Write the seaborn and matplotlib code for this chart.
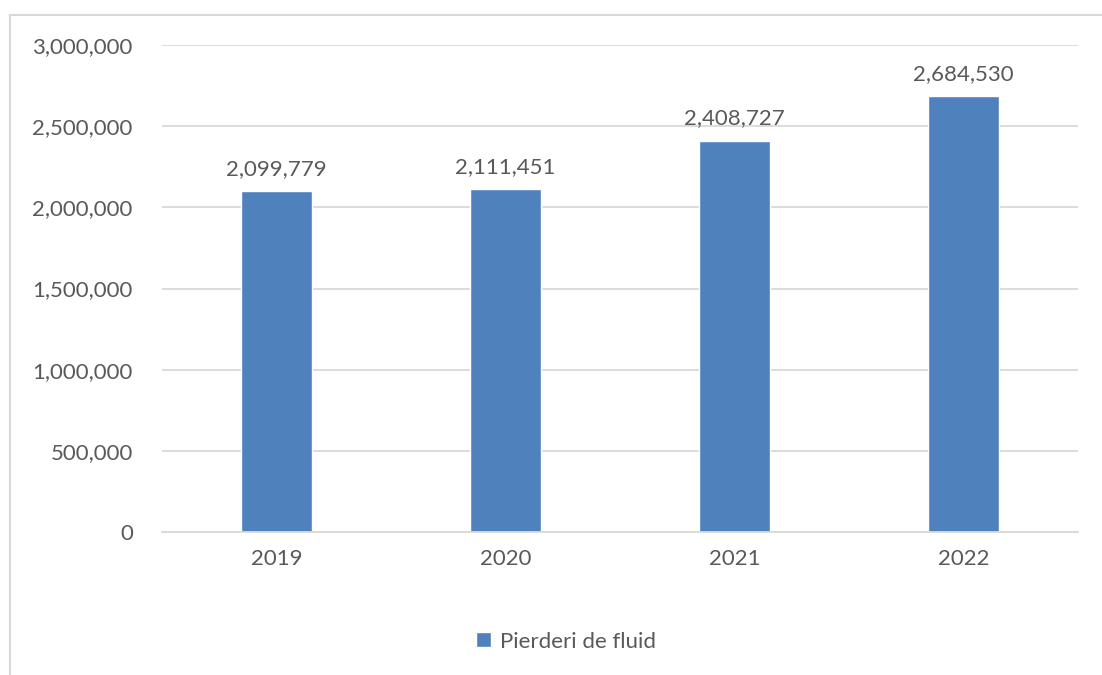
import matplotlib.pyplot as plt
import seaborn as sns
import pandas as pd
import numpy as np
from matplotlib.patches import Rectangle
from matplotlib.ticker import FuncFormatter, MultipleLocator

years = ["2019", "2020", "2021", "2022"]
losses = [2099779, 2111451, 2408727, 2684530]
series_name = "Pierderi de fluid"

bar_color = "#4F81BD"
text_color = "#595959"
grid_color = "#D9D9D9"

sns.set_theme(style="white")
plt.rcParams["font.family"] = ["Lato", "DejaVu Sans"]

df = pd.DataFrame({"year": years, "value": losses})

fig = plt.figure(figsize=(11.02, 6.75), dpi=100)
ax = fig.add_axes([162 / 1102, 1 - 532 / 675, (1078 - 162) / 1102, (532 - 45) / 675])

sns.barplot(data=df, x="year", y="value", color=bar_color, width=0.31,
            saturation=1, ax=ax, label=series_name)

ax.set_ylim(0, 3000000)
ax.yaxis.set_major_locator(MultipleLocator(500000))
ax.yaxis.set_major_formatter(FuncFormatter(lambda v, p: f"{v:,.0f}"))
ax.set_xlabel("")
ax.set_ylabel("")
ax.grid(axis="y", color=grid_color, linewidth=1.3)
ax.set_axisbelow(True)
for s in ["top", "right", "left"]:
    ax.spines[s].set_visible(False)
ax.spines["bottom"].set_color(grid_color)
ax.spines["bottom"].set_linewidth(1.3)
ax.tick_params(axis="both", length=0, labelsize=16, colors=text_color)
ax.tick_params(axis="y", pad=21)
ax.tick_params(axis="x", pad=12)

for i, v in enumerate(losses):
    ax.annotate(f"{v:,}", (i, v), xytext=(0, 9), textcoords="offset points",
                ha="center", va="bottom", fontsize=16, color=text_color)

leg = ax.legend(loc="center", bbox_to_anchor=((566 - 162) / 916, -0.225), frameon=False,
                fontsize=16, handlelength=0.65, handleheight=0.65, handletextpad=0.4)
for t in leg.get_texts():
    t.set_color(text_color)

fig.add_artist(Rectangle((10 / 1102, -0.05), 1.2, 1 - 15 / 675 + 0.05,
                         transform=fig.transFigure, fill=False,
                         edgecolor=grid_color, linewidth=1.5))

fig.savefig("out.png", dpi=100)
